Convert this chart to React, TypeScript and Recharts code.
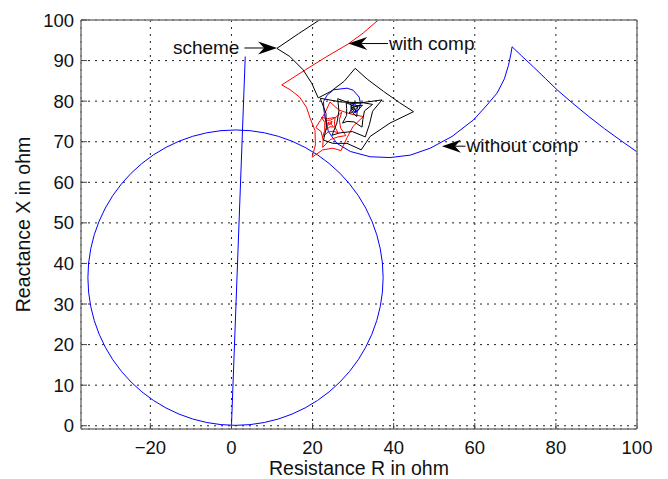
import React from 'react';
import {
  LineChart, Line, XAxis, YAxis, CartesianGrid, ReferenceArea, ReferenceLine, Label,
} from 'recharts';

// axis setup (R = resistance, X = reactance, both in ohm)
const rDomain: [number, number] = [-37.1, 100];
const xDomain: [number, number] = [-0.8, 100];
const rTicks = [-20, 0, 20, 40, 60, 80, 100];
const xTicks = [0, 10, 20, 30, 40, 50, 60, 70, 80, 90, 100];

// mho relay circle
const mhoCenter = [1.0, 36.5];
const mhoRadius = 36.4;

// line impedance angle
const lineImpedance = [[0, 0], [3.4, 91]];

// impedance trajectory, no compensation
const withoutComp = [
  [30.3, 78.0], [30.8, 77.4], [31.1, 78.5], [30.4, 79.3], [29.5, 78.9], [29.5, 77.6],
  [30.5, 77.1], [31.5, 78.0], [31.8, 79.5], [31.5, 81.0], [30.0, 82.7], [28.5, 83.2],
  [25.2, 82.8], [23.6, 81.5], [22.7, 79.9], [22.8, 77.8], [23.1, 75.8], [23.9, 72.5],
  [26.0, 69.6], [29.3, 67.6], [34.2, 66.3], [39.1, 66.1], [44.1, 66.7], [49.0, 68.4],
  [54.4, 71.3], [59.7, 75.4], [62.8, 78.8], [65.5, 82.0], [67.3, 85.5], [68.3, 88.8],
  [68.9, 91.6], [69.2, 93.4], [71.5, 91.2], [74.5, 88.4], [77.5, 85.5], [80.3, 82.8],
  [84.0, 79.6], [88.0, 76.3], [92.0, 73.2], [96.0, 70.3], [100, 67.5],
];

// impedance trajectory, with compensation
const withComp = [
  [36.2, 100], [32.5, 96.8], [28.8, 94.1], [23.5, 91.0], [18.2, 87.7], [12.4, 84.0],
  [14.5, 82.8], [16.8, 81.0], [18.5, 78.5], [19.4, 75.8],
  [20.6, 72.8], [20.7, 69.2], [19.9, 66.2],
  [22.5, 68.0], [25.0, 68.4], [27.0, 67.8],
  [28.5, 71.0], [30.0, 73.8], [32.5, 76.2],
  [29.5, 76.8], [26.5, 77.8], [24.3, 79.8],
  [23.1, 77.2], [21.9, 75.2], [20.8, 73.5],
  [22.1, 72.5], [22.6, 70.4], [22.5, 68.6],
  [24.3, 70.5], [26.3, 71.2], [28.2, 71.5],
  [26.9, 73.4], [26.6, 75.4], [27.2, 77.3],
  [25.7, 76.0], [23.7, 75.7], [22.2, 76.0],
  [23.0, 74.8], [23.0, 72.8], [22.5, 71.2],
  [23.8, 72.4], [25.1, 72.6], [26.3, 72.2],
  [25.5, 73.6], [25.4, 74.9], [25.6, 76.0],
  [24.4, 75.3], [23.2, 75.3], [23.8, 74.1], [23.4, 73.0],
  [24.3, 73.7], [25.2, 73.6], [24.6, 74.3], [24.8, 75.1], [24.2, 74.6],
  [23.8, 74.8], [24.0, 74.2], [24.5, 74.4], [24.3, 74.6],
];

// impedance trajectory, proposed scheme
const scheme = [
  [21.7, 100], [16.5, 96.6], [11.2, 93.0],
  [14.4, 91.0], [17.6, 87.8], [19.8, 84.4], [21.4, 80.8],
  [24.5, 82.4], [27.8, 84.9], [30.5, 88.1],
  [33.5, 85.4], [37.5, 82.4], [41.5, 79.6], [44.9, 77.4],
  [39.1, 74.6], [34.2, 71.3], [32.0, 68.0],
  [28.5, 69.6], [25.0, 69.6], [22.7, 70.4],
  [23.4, 73.5], [23.3, 77.0], [21.9, 80.7],
  [27.0, 79.8], [32.0, 79.6], [37.1, 80.3],
  [34.8, 77.5], [34.0, 74.2], [33.0, 71.2],
  [29.8, 72.5], [26.8, 72.2], [24.8, 71.6],
  [26.0, 74.6], [26.5, 77.6], [26.2, 80.6],
  [29.5, 79.4], [32.5, 79.6], [34.8, 79.2],
  [32.8, 77.6], [32.4, 75.5], [32.2, 73.6],
  [30.2, 74.9], [28.5, 75.0], [27.4, 74.6],
  [28.4, 76.5], [28.4, 78.2], [28.3, 79.6],
  [30.2, 78.8], [32.3, 79.0], [31.0, 77.6], [30.9, 76.2],
  [29.8, 77.2], [29.0, 77.0], [29.6, 78.0], [29.5, 79.0],
  [30.4, 78.6], [31.3, 78.8], [30.6, 78.0], [30.6, 77.3], [29.9, 77.8],
  [29.7, 78.4], [30.2, 78.5], [30.4, 78.1], [30.0, 78.1], [30.2, 78.0],
];

// annotation arrows: text, tail and tip in ohm
const noteLabels = ['scheme', 'with comp', 'without comp'];
const noteTails = [[3.2, 93.1], [38.6, 94.2], [57.7, 68.9]];
const noteTips = [[11.25, 93.1], [28.8, 94.2], [51.9, 68.9]];

const FONT = '"Liberation Sans", Arial, Helvetica, sans-serif';
const BLUE = '#0000ff';

const toPts = (arr: number[][]) => arr.map(([r, x]) => ({ r, x }));

const Arrow = (props: any) => {
  const { x1, y1, x2, y2, text } = props;
  const a = Math.atan2(y2 - y1, x2 - x1);
  const c = Math.cos(a);
  const s = Math.sin(a);
  const back = (d: number, w: number) => `${x2 - c * d - s * w},${y2 - s * d + c * w}`;
  const head = [back(0, 0), back(19, -6.5), back(13, 0), back(19, 6.5)].join(' ');
  const leftSide = x1 < x2;
  return (
    <g>
      <line x1={x1} y1={y1} x2={x2 - c * 13} y2={y2 - s * 13} stroke="#000" strokeWidth={1} />
      <polygon points={head} fill="#000" />
      <text
        x={leftSide ? x1 - 5 : x1 + 1}
        y={y1}
        dy="0.33em"
        textAnchor={leftSide ? 'end' : 'start'}
        fontFamily={FONT}
        fontSize={19}
        fill="#111"
      >
        {text}
      </text>
    </g>
  );
};

const MhoCircle = (props: any) => {
  const { x, y, width, height } = props;
  return (
    <ellipse
      cx={x + width / 2}
      cy={y + height / 2}
      rx={width / 2}
      ry={height / 2}
      fill="none"
      stroke={BLUE}
      strokeWidth={1}
    />
  );
};

const axisStroke = { stroke: '#7a7a7a', strokeWidth: 1.5 };
const tickStroke = { stroke: '#444', strokeWidth: 1 };
const tickFont = { fontSize: 18.5, fill: '#111', fontFamily: FONT };
const fmtR = (v: number) => (v < 0 ? `\u2212${Math.abs(v)}` : `${v}`);

export default function App() {
  return (
    <div style={{ position: 'absolute', left: 0, top: 0, background: '#fff', fontFamily: FONT }}>
      <LineChart width={668} height={479} margin={{ top: 19, right: 30, bottom: 20, left: 21 }}>
        <CartesianGrid stroke="#222" strokeDasharray="2 5" strokeWidth={1} />
        <XAxis
          dataKey="r"
          type="number"
          domain={rDomain}
          ticks={rTicks}
          interval={0}
          allowDataOverflow
          height={30}
          tickSize={-6}
          tickMargin={18}
          tickFormatter={fmtR}
          tick={tickFont}
          axisLine={axisStroke}
          tickLine={tickStroke}
        >
          <Label value="Resistance R in ohm" position="bottom" offset={2} fontSize={19.5} fill="#111" fontFamily={FONT} />
        </XAxis>
        <XAxis
          xAxisId="top"
          orientation="top"
          dataKey="r"
          type="number"
          domain={rDomain}
          ticks={rTicks}
          interval={0}
          allowDataOverflow
          height={1}
          tickSize={-6}
          tick={false}
          axisLine={axisStroke}
          tickLine={tickStroke}
        />
        <YAxis
          dataKey="x"
          type="number"
          domain={xDomain}
          ticks={xTicks}
          interval={0}
          allowDataOverflow
          width={60}
          tickSize={-6}
          tickMargin={13}
          tick={tickFont}
          axisLine={axisStroke}
          tickLine={tickStroke}
        >
          <Label
            value="Reactance X in ohm"
            angle={-90}
            position="insideLeft"
            offset={2.5}
            textAnchor="middle"
            fontSize={19.5}
            fill="#111"
            fontFamily={FONT}
          />
        </YAxis>
        <YAxis
          yAxisId="right"
          orientation="right"
          dataKey="x"
          type="number"
          domain={xDomain}
          ticks={xTicks}
          interval={0}
          allowDataOverflow
          width={1}
          tickSize={-6}
          tick={false}
          axisLine={axisStroke}
          tickLine={tickStroke}
        />

        <ReferenceArea
          x1={mhoCenter[0] - mhoRadius}
          x2={mhoCenter[0] + mhoRadius}
          y1={mhoCenter[1] - mhoRadius}
          y2={mhoCenter[1] + mhoRadius}
          shape={MhoCircle}
        />

        <Line data={toPts(lineImpedance)} dataKey="x" type="linear" stroke={BLUE} strokeWidth={1} dot={false} isAnimationActive={false} />
        <Line data={toPts(withoutComp)} dataKey="x" type="linear" stroke={BLUE} strokeWidth={1} dot={false} isAnimationActive={false} />
        <Line data={toPts(withComp)} dataKey="x" type="linear" stroke="#ff0000" strokeWidth={1} dot={false} isAnimationActive={false} />
        <Line data={toPts(scheme)} dataKey="x" type="linear" stroke="#000" strokeWidth={1} dot={false} isAnimationActive={false} />

        {noteLabels.map((text, i) => (
          <ReferenceLine
            key={text}
            segment={[
              { x: noteTails[i][0], y: noteTails[i][1] },
              { x: noteTips[i][0], y: noteTips[i][1] },
            ]}
            shape={(p: any) => <Arrow {...p} text={text} />}
          />
        ))}
      </LineChart>
    </div>
  );
}
